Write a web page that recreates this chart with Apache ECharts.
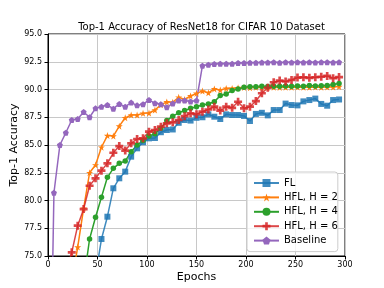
<!DOCTYPE html>
<html>
<head>
<meta charset="utf-8">
<script src="https://cdn.jsdelivr.net/npm/echarts@6/dist/echarts.min.js"></script>
<style>html,body{margin:0;padding:0;background:#fff}#c{width:384px;height:288px}</style>
</head>
<body>
<div id="c"></div>
<script>
var epochs = [0,6,12,18,24,30,36,42,48,54,60,66,72,78,84,90,96,102,108,114,120,126,132,138,144,150,156,162,168,174,180,186,192,198,204,210,216,222,228,234,240,246,252,258,264,270,276,282,288,294];

var fl = [10,20,30,40,50,58,65,70,73.2,76.53,78.54,81.1,82.0,82.6,83.95,84.7,85.25,85.6,85.63,86.15,86.35,86.4,87.0,87.25,87.2,87.45,87.5,87.76,87.55,87.34,87.76,87.7,87.7,87.62,87.16,87.8,87.9,87.67,88.15,88.15,88.73,88.6,88.57,88.93,89.05,89.18,88.7,88.54,89.05,89.1];

var hfl2 = [20,40,55,65,72.7,75.8,79.3,82.5,83.2,84.8,85.85,85.8,86.7,87.45,87.7,87.7,87.85,87.88,88.15,88.62,88.88,88.85,89.3,89.1,89.42,89.65,89.86,89.7,90.05,89.95,90.1,90.1,90.15,90.18,90.15,90.2,90.18,90.2,90.2,90.18,90.2,90.2,90.22,90.2,90.2,90.22,90.2,90.22,90.22,90.26];

var hfl4 = [15,30,45,55,62,68,72.7,76.53,78.49,80.29,82.09,82.9,83.35,83.55,84.4,85.0,85.4,85.8,86.02,86.5,87.2,87.6,87.9,88.1,88.3,88.45,88.6,88.7,88.9,89.45,89.6,89.9,90.05,90.2,90.25,90.25,90.3,90.28,90.3,90.3,90.32,90.3,90.32,90.3,90.35,90.32,90.33,90.35,90.45,90.55];

var hfl6 = [10,35,55,73.5,75.33,77.73,79.23,81.33,82.0,82.69,83.35,84.3,84.9,84.5,85.15,85.54,85.6,86.2,86.35,86.65,86.95,87.04,87.25,87.6,87.85,87.77,88.0,88.2,88.45,88.1,88.45,88.35,88.9,88.3,88.45,88.96,89.66,90.16,90.65,90.8,90.72,90.86,91.07,91.1,91.05,91.1,91.15,91.22,91.02,91.12];

var baseline = [50,80.7,85.0,86.1,87.25,87.35,87.97,87.5,88.3,88.45,88.6,88.27,88.7,88.45,88.82,88.57,88.68,89.05,88.77,88.68,88.4,88.74,89.0,89.01,88.92,89.0,92.15,92.24,92.3,92.32,92.33,92.32,92.38,92.38,92.42,92.42,92.44,92.44,92.45,92.42,92.46,92.44,92.45,92.44,92.45,92.44,92.45,92.45,92.44,92.45];

var seriesNames = ['FL', 'HFL, H = 2', 'HFL, H = 4', 'HFL, H = 6', 'Baseline'];
var xTicks = [0, 300, 50];
var yTicks = [75, 95, 2.5];

function pairs(vals) {
  return epochs.map(function (e, i) { return [e, vals[i]]; });
}

var STAR = 'path://M0,-1L0.2245,-0.309L0.951,-0.309L0.363,0.118L0.588,0.809L0,0.382L-0.588,0.809L-0.363,0.118L-0.951,-0.309L-0.2245,-0.309Z';
var PLUS = 'path://M-1,-3H1V-1H3V1H1V3H-1V1H-3V-1H-1Z';
var PENT = 'path://M0,-1L0.951,-0.309L0.588,0.809L-0.588,0.809L-0.951,-0.309Z';

var styles = [
  {color: '#1f77b4', symbol: 'rect', size: 6, op: 0.85},
  {color: '#ff7f0e', symbol: STAR, size: 7, op: 1},
  {color: '#2ca02c', symbol: 'circle', size: 5.5, op: 1},
  {color: '#d62728', symbol: PLUS, size: 8, op: 0.85},
  {color: '#9467bd', symbol: PENT, size: 6, op: 1}
];
var allData = [fl, hfl2, hfl4, hfl6, baseline];

var FONT = 'DejaVu Sans';
var chart = echarts.init(document.getElementById('c'), null, {renderer: 'canvas'});
chart.setOption({
  animation: false,
  backgroundColor: '#fff',
  title: {
    text: 'Top-1 Accuracy of ResNet18 for CIFAR 10 Dataset',
    left: 196.5, textAlign: 'center', top: 17,
    textStyle: {fontFamily: FONT, fontSize: 10, fontWeight: 'normal', color: '#000'}
  },
  grid: {left: 48, right: 39, top: 34, bottom: 32, containLabel: false, outerBoundsMode: 'none',
    show: true, borderColor: '#000', borderWidth: 1, backgroundColor: 'transparent'},
  legend: {
    orient: 'vertical', left: 247, top: 172,
    data: seriesNames,
    backgroundColor: 'rgba(255,255,255,0.8)',
    borderColor: '#cccccc', borderWidth: 1, borderRadius: 3,
    padding: [6, 0, 6, 6],
    itemWidth: 25, itemHeight: 10, itemGap: 4.4,
    textStyle: {fontFamily: FONT, fontSize: 10, color: '#000', lineHeight: 10}
  },
  xAxis: {
    type: 'value', min: xTicks[0], max: xTicks[1], interval: xTicks[2],
    name: 'Epochs', nameLocation: 'middle', nameGap: 16, nameMoveOverlap: false,
    nameTextStyle: {fontFamily: FONT, fontSize: 11, color: '#000'},
    axisLine: {show: true, lineStyle: {color: '#000', width: 1}},
    axisTick: {show: true, inside: false, length: 3.5, lineStyle: {color: '#000'}},
    axisLabel: {fontFamily: FONT, fontSize: 8, color: '#000', margin: 5},
    splitLine: {show: true, lineStyle: {color: '#c8c8c8', width: 1}}
  },
  yAxis: {
    type: 'value', min: yTicks[0], max: yTicks[1], interval: yTicks[2],
    name: 'Top-1 Accuracy', nameLocation: 'middle', nameGap: 28, nameRotate: 90, nameMoveOverlap: false,
    nameTextStyle: {fontFamily: FONT, fontSize: 11, color: '#000'},
    axisLine: {show: true, lineStyle: {color: '#000', width: 1}},
    axisTick: {show: true, inside: false, length: 3.5, lineStyle: {color: '#000'}},
    axisLabel: {fontFamily: FONT, fontSize: 8, color: '#000', margin: 6,
      formatter: function (v) { return v.toFixed(1); }},
    splitLine: {show: true, lineStyle: {color: '#c8c8c8', width: 1}}
  },
  series: seriesNames.map(function (n, i) {
    var s = styles[i];
    return {
      name: n, type: 'line', data: pairs(allData[i]),
      clip: true,
      symbol: s.symbol, symbolSize: s.size, showAllSymbol: true,
      lineStyle: {color: s.color, width: 1.5, opacity: s.op},
      itemStyle: {color: s.color, opacity: s.op},
      emphasis: {disabled: true}
    };
  })
});
</script>
</body>
</html>
